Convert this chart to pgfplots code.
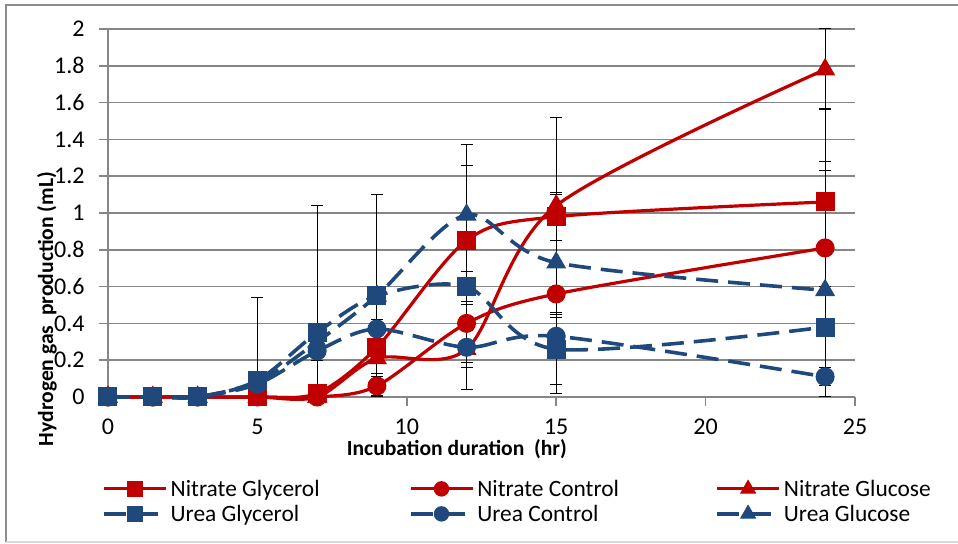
\documentclass[border=0pt]{standalone}
\usepackage{pgfplots}
\usepackage{pgfplotstable}
\pgfplotsset{compat=1.18}
\usepackage{fontspec}
\setmainfont{Carlito}
\definecolor{nred}{HTML}{C00000}
\definecolor{ublue}{HTML}{1F497D}
\definecolor{axgray}{HTML}{868686}
\definecolor{brgray}{HTML}{8C8C8C}
\definecolor{ltgray}{HTML}{D9D9D9}

% x  y  ep  em
\pgfplotstableread{
x y ep em
0 0 0 0
1.5 0 0 0
3 0 0 0
5 0 0 0
7 0.02 0 0
9 0.27 0 0
12 0.85 0.41 0.41
15 0.98 0.13 0.13
24 1.06 0.22 0.22
}\nglyc
\pgfplotstableread{
x y ep em
0 0 0 0
1.5 0 0 0
3 0 0 0
5 0 0 0
7 0 0 0
9 0.06 0.05 0.05
12 0.40 0.21 0.21
15 0.56 0.54 0.54
24 0.81 0.42 0.42
}\nctrl
\pgfplotstableread{
x y ep em
0 0 0 0
1.5 0 0 0
3 0 0 0
5 0 0 0
7 0 0 0
9 0.21 0.08 0.08
12 0.26 0.10 0.10
15 1.04 0.48 0.48
24 1.78 0.22 0.22
}\ngluc
\pgfplotstableread{
x y ep em
0 0 0 0
1.5 0 0 0
3 0 0 0
5 0.09 0.45 0.09
7 0.35 0.69 0.35
9 0.55 0.55 0.55
12 0.60 0.08 0.08
15 0.26 0.19 0.19
24 0.38 0.22 0.22
}\uglyc
\pgfplotstableread{
x y ep em
0 0 0 0
1.5 0 0 0
3 0 0 0
5 0.07 0 0
7 0.25 0.05 0.05
9 0.37 0.05 0.05
12 0.27 0.23 0.23
15 0.33 0.10 0.10
24 0.11 0.05 0.05
}\uctrl
\pgfplotstableread{
x y ep em
3 0 0 0
5 0.08 0 0
7 0.30 0 0
9 0.55 0 0
12 0.99 0.38 0.38
15 0.73 0.27 0.27
24 0.58 0.99 0.58
}\uglucose

\begin{document}
\begin{tikzpicture}
\begin{axis}[
  name=ax,
  scale only axis,
  width=373.5pt, height=184pt,
  xmin=0, xmax=25, ymin=0, ymax=2,
  clip=false,
  xtick={0,5,10,15,20,25},
  ytick={0,0.2,0.4,0.6,0.8,1,1.2,1.4,1.6,1.8,2},
  axis x line*=bottom, axis y line*=left,
  axis line style={axgray, line width=0.75pt},
  tick align=outside,
  major tick length=4.5pt,
  major tick style={axgray, line width=0.75pt},
  ymajorgrids,
  grid style={axgray, line width=0.75pt},
  /pgf/number format/assume math mode=true,
  ticklabel style={font=\fontsize{12}{14}\selectfont, text=black},
  yticklabel style={/pgf/number format/fixed, anchor=east, inner sep=0pt, xshift=-7pt},
  xticklabel style={anchor=north, inner sep=0pt, yshift=-6.5pt},
  xlabel={Incubation duration\ \ (hr)},
  ylabel={Hydrogen gas\ \ production (mL)},
  xlabel style={at={(axis description cs:0.467,0)}, anchor=center, yshift=-26pt, font=\bfseries\fontsize{10.8}{13}\selectfont},
  ylabel style={at={(axis description cs:0,0.239)}, anchor=center, yshift=30.5pt, font=\bfseries\fontsize{10.8}{13}\selectfont},
  legend columns=3,
  legend cell align=left,
  legend style={at={(axis description cs:0,0)}, anchor=north west, xshift=-3.15pt, yshift=-39.5pt,
    draw=none, fill=none, inner sep=0pt, row sep=0pt,
    nodes={inner sep=0pt, text height=10pt, text depth=2.5pt, font=\fontsize{11.7}{14}\selectfont},
    /tikz/every odd column/.append style={column sep=1.5pt},
    /tikz/every even column/.append style={column sep=0pt}},
  legend image code/.code={\draw[mark repeat=2, mark phase=2, #1, mark options={solid, line width=0.5pt, scale=0.8}] plot coordinates {(0pt,0pt) (15.5pt,0pt) (31pt,0pt)};},
  error bars/y dir=both,
  error bars/y explicit,
  error bars/error bar style={black, line width=0.5pt, solid},
  error bars/error mark options={black, line width=0.5pt, mark size=3pt, solid, rotate=90},
  nitrate/.style={nred, line width=1.6pt, smooth, mark options={solid, fill=nred, line width=0.5pt}},
  urea/.style={ublue, line width=1.8pt, smooth, dash pattern=on 11pt off 5pt, mark options={solid, fill=ublue, line width=0.5pt}},
]
\addplot[nitrate, mark=square*, mark size=4.5pt] table[x=x, y=y, y error plus=ep, y error minus=em] {\nglyc};
\addlegendentry{\makebox[119pt][l]{Nitrate Glycerol}}
\addplot[nitrate, mark=*, mark size=4.5pt] table[x=x, y=y, y error plus=ep, y error minus=em] {\nctrl};
\addlegendentry{\makebox[119pt][l]{Nitrate Control}}
\addplot[nitrate, mark=triangle*, mark size=5.3pt] table[x=x, y=y, y error plus=ep, y error minus=em] {\ngluc};
\addlegendentry{\makebox[119pt][l]{Nitrate Glucose}}
\addplot[urea, mark=square*, mark size=4.5pt] table[x=x, y=y, y error plus=ep, y error minus=em] {\uglyc};
\addlegendentry{\makebox[119pt][l]{Urea Glycerol}}
\addplot[urea, mark=*, mark size=4.5pt] table[x=x, y=y, y error plus=ep, y error minus=em] {\uctrl};
\addlegendentry{\makebox[119pt][l]{Urea Control}}
\addplot[urea, mark=triangle*, mark size=5.3pt] table[x=x, y=y, y error plus=ep, y error minus=em] {\uglucose};
\addlegendentry{\makebox[119pt][l]{Urea Glucose}}
\end{axis}
\pgfresetboundingbox
\useasboundingbox ([shift={(-54pt,-73.5pt)}]ax.south west) rectangle ([shift={(425pt,198.5pt)}]ax.south west);
\draw[brgray, line width=1pt] ([shift={(-51pt,-72.5pt)}]ax.south west) -- ([shift={(-51pt,196pt)}]ax.south west) -- ([shift={(425pt,196pt)}]ax.south west);
\draw[ltgray, line width=1pt] ([shift={(-51pt,-72.5pt)}]ax.south west) -- ([shift={(425pt,-72.5pt)}]ax.south west);
\end{tikzpicture}
\end{document}
